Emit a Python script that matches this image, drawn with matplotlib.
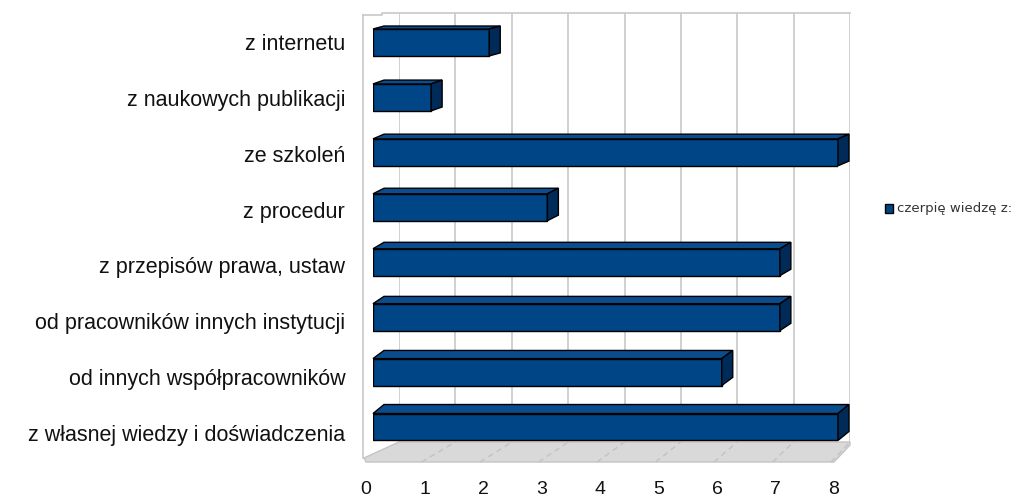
import numpy as np
import matplotlib
matplotlib.use("Agg")
import matplotlib.pyplot as plt
from matplotlib.patches import Polygon, Rectangle
from matplotlib.lines import Line2D
from matplotlib.transforms import IdentityTransform

# data (top to bottom as shown)
categories = [
    "z internetu",
    "z naukowych publikacji",
    "ze szkoleń",
    "z procedur",
    "z przepisów prawa, ustaw",
    "od pracowników innych instytucji",
    "od innych współpracowników",
    "z własnej wiedzy i doświadczenia",
]
values = [2, 1, 8, 3, 7, 7, 6, 8]
x_ticks = [0, 1, 2, 3, 4, 5, 6, 7, 8]
series_name = "czerpię wiedzę z:"

W, H = 1018, 500
plt.rcParams['font.family'] = ['Liberation Sans', 'DejaVu Sans']

fig = plt.figure(figsize=(W / 100, H / 100), dpi=100)
fig.patch.set_facecolor("white")


def frac(x0, y0, x1, y1):
    # pixel box (top-left origin) -> figure fraction rect
    return [x0 / W, 1 - y1 / H, (x1 - x0) / W, (y1 - y0) / H]


# back wall with grid
ax_back = fig.add_axes(frac(399, 13, 850, 442))
ax_back.set_xlim(0, 8)
ax_back.set_ylim(0, 1)
ax_back.set_xticks(x_ticks)
ax_back.set_yticks([])
ax_back.tick_params(axis="x", length=0, labelbottom=False)
ax_back.grid(axis="x", color="#c8c8c8", lw=1.2)
for s in ax_back.spines.values():
    s.set_visible(False)
ax_back.patch.set_alpha(0)

# front axis (tick labels)
ax_axis = fig.add_axes(frac(366, 458, 834, 462))
ax_axis.set_xlim(0, 8)
ax_axis.set_ylim(0, 1)
ax_axis.set_xticks(x_ticks)
ax_axis.set_xticklabels([str(t) for t in x_ticks], fontsize=14, color="#111111")
ax_axis.tick_params(axis="x", length=0, pad=14)
ax_axis.set_yticks([])
for s in ax_axis.spines.values():
    s.set_visible(False)
ax_axis.patch.set_alpha(0)

# category labels (spaced a little wider than the bars, as in the original)
ax_lab = fig.add_axes(frac(373, 14, 838, 461))
ax_lab.set_ylim(len(categories) - 0.5, -0.5)
ax_lab.set_yticks(range(len(categories)))
ax_lab.set_yticklabels(categories, fontsize=15.5, color="#111111")
ax_lab.tick_params(axis="y", length=0, pad=20)
ax_lab.set_xticks([])
for s in ax_lab.spines.values():
    s.set_visible(False)
ax_lab.patch.set_alpha(0)

# bars
ax = fig.add_axes(frac(373, 15, 838, 455))
ax.set_xlim(0, 8)
ax.set_ylim(len(categories) - 0.49, -0.5)
ax.set_xticks([])
ax.set_yticks([])
for s in ax.spines.values():
    s.set_visible(False)
ax.patch.set_alpha(0)

fig.canvas.draw()
disp = IdentityTransform()

# floor
bl = ax_back.transData.transform((0, 0))
br = ax_back.transData.transform((8, 0))
fl = ax_axis.transData.transform((0, 0))
fr = ax_axis.transData.transform((8, 0))
left_top = ax_back.transData.transform((0, 1))
floor = Polygon([fl, fr, br + [0, -3], br, bl, fl + [-2, 4]], closed=True,
                facecolor="#d9d9d9", edgecolor="#c4c4c4", lw=1, transform=disp, zorder=0)
fig.add_artist(floor)
for k in x_ticks[1:]:
    p0 = ax_axis.transData.transform((k - 0.05, 0))
    p1 = ax_back.transData.transform((k, 0))
    fig.add_artist(Line2D([p0[0], p1[0]], [p0[1], p1[1]], color="#c2c2c2",
                          lw=1, ls=(0, (4, 3)), transform=disp, zorder=0.5))

# left wall
wall_x = fl[0] - 3
fig.add_artist(Line2D([wall_x, wall_x], [fl[1] + 4, left_top[1] - 2], color="#c8c8c8",
                      lw=1.2, transform=disp, zorder=0.5))
fig.add_artist(Line2D([wall_x, left_top[0] - 17, left_top[0] - 17, 850],
                      [left_top[1] - 2, left_top[1] - 2, left_top[1], left_top[1]],
                      color="#c8c8c8", lw=1.2, transform=disp, zorder=0.5))

front_c = "#004586"
top_c = "#0a4d8f"
side_c = "#002a57"
bh = 0.49
n = len(categories)
for i, v in enumerate(values):
    dx = 11
    dy = 3 + 6 * i / (n - 1)
    a = ax.transData.transform((0, i - bh / 2))
    b = ax.transData.transform((v, i - bh / 2))
    c = ax.transData.transform((v, i + bh / 2))
    off = np.array([dx, dy])
    top = Polygon([a, b, b + off, a + off], closed=True, facecolor=top_c,
                  edgecolor="black", lw=1, transform=disp, zorder=2)
    side = Polygon([b, c, c + off, b + off], closed=True, facecolor=side_c,
                   edgecolor="black", lw=1, transform=disp, zorder=2)
    fig.add_artist(top)
    fig.add_artist(side)
    ax.add_patch(Rectangle((0, i - bh / 2), v, bh, facecolor=front_c,
                           edgecolor="black", lw=1, zorder=3))

# legend
fig.add_artist(Rectangle((885 / W, 1 - 213 / H), 8 / W, 9 / H, facecolor=front_c,
                         edgecolor="black", lw=1, transform=fig.transFigure))
fig.text(897 / W, 1 - 208.5 / H, series_name, fontsize=9.5, color="#333333",
         va="center", ha="left", family=["DejaVu Sans"])

fig.savefig("out.png", dpi=100)
